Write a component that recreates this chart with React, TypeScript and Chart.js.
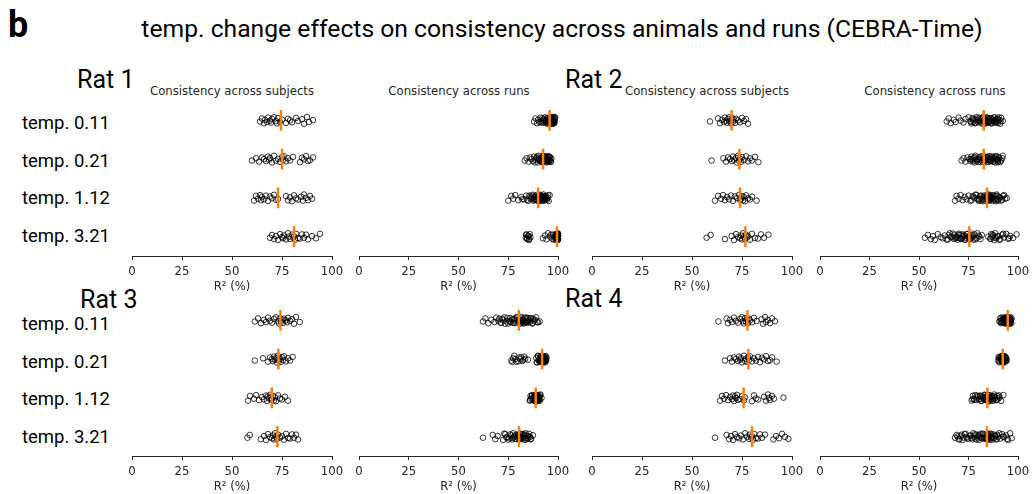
import React, { useEffect, useRef } from 'react';
import { Chart, registerables } from 'chart.js';

Chart.register(...registerables);

// ---------------- DATA ----------------
const CATEGORIES = ['temp. 0.11', 'temp. 0.21', 'temp. 1.12', 'temp. 3.21'];
const X_TICKS = [0, 25, 50, 75, 100];
const X_TITLE = 'R² (%)';
const MAIN_TITLE = 'temp. change effects on consistency across animals and runs (CEBRA-Time)';
const RAT_LABELS = ['Rat 1', 'Rat 2', 'Rat 3', 'Rat 4'];
const PANEL_TITLES = ['Consistency across subjects', 'Consistency across runs'];

const rat1Subjects = [
  [64, 65, 66, 66.5, 67.5, 68, 69, 69.5, 70, 71, 72, 72.5, 73, 74, 75, 77, 78, 79, 80, 82, 83, 85, 86, 87.5, 88.5, 90.5],
  [60, 62, 63.5, 65, 66, 67, 68, 68.5, 69, 70, 71, 72, 73, 74, 75, 75.5, 76, 77, 78, 79, 80.5, 84, 85, 86, 87, 88, 89, 90.5],
  [61, 62, 63, 64, 64.5, 65, 66, 67, 68, 69, 70, 71, 72, 73, 77, 78, 79, 80, 81, 82, 83, 84.5, 85.5, 86, 87, 88, 89, 90],
  [69, 70, 71, 72, 73, 74, 75, 75.5, 76, 77, 78, 78.5, 79, 80, 80.5, 81, 81.5, 82, 83, 84, 85, 86, 87, 88, 90, 92, 94],
];
const rat1SubjectsMedian = [74.5, 75, 73, 81];

const rat1Runs = [
  [88, 88.7, 89.4, 90, 90.6, 91.2, 91.8, 92.4, 93, 93.5, 94, 94.4, 94.8, 95.1, 95.4, 95.7, 96, 96.2, 96.4, 96.6, 96.8, 97, 97.2, 97.4, 97.6, 97.8, 98, 98.2, 98.4, 98.6,
    91.5, 92.8, 93.8, 94.6, 95, 95.3, 95.6, 95.9, 96.1, 96.3, 96.5, 96.7, 96.9, 97.1, 97.3, 97.5, 97.7, 97.9, 98.1, 98.3, 94.2, 93.2, 92, 95.8, 96.6],
  [83.3, 84.2, 85.2, 86, 86.7, 87.4, 88, 88.6, 89.2, 89.8, 90.3, 90.8, 91.3, 91.8, 92.2, 92.5, 92.8, 93.1, 93.4, 93.7, 94, 94.3, 94.6, 94.9, 95.2, 95.5, 95.8, 96.1, 96.4, 96.7,
    88.3, 89.5, 90.5, 91, 91.5, 92, 92.4, 92.7, 93, 93.3, 93.6, 93.9, 94.2, 94.5, 94.8, 95.1, 95.4, 95.7, 96, 96.3, 90.1, 91.6, 92.9, 94.4, 95.6],
  [75, 76.5, 77.5, 78.5, 80, 81.6, 83, 84, 85, 86, 86.7, 87.3, 88, 88.5, 89, 89.4, 89.8, 90.2, 90.6, 91, 91.4, 91.8, 92.2, 92.6, 93, 93.4, 93.8, 94.3, 94.8, 95.3, 95.8,
    82, 84.5, 85.5, 86.3, 87, 87.7, 88.2, 88.8, 89.2, 89.6, 90, 90.4, 90.8, 91.2, 91.6, 92, 92.4, 92.8, 93.2, 93.6, 94, 94.5, 95, 89.9, 90.6],
  [83.8, 84.2, 84.6, 85, 85.4, 85.8, 86.1, 92.4, 93.5, 94.2, 95, 96, 97, 97.5, 98, 98.5, 99, 99.2, 99.4, 99.5, 99.6, 99.7, 99.8, 99.9, 100, 100, 99.8, 99.6, 99.9, 99.7, 100, 99.5, 99.9,
    84, 84.4, 85.2, 85.6, 98.8, 99.1, 99.3, 99.6, 99.8, 100, 99.9, 99.7, 99.4, 98.2, 97.8, 96.5, 99.5, 99.95, 100, 99.85],
];
const rat1RunsMedian = [95.8, 92.5, 90, 99.5];

const rat2Subjects = [
  [59, 63, 64, 65, 66, 66.5, 67, 67.5, 68, 68.5, 69, 69.5, 70, 70.5, 71, 71.5, 72, 73, 74, 75, 76, 77, 78],
  [59.8, 65.7, 67, 68, 69, 70, 70.5, 71, 72, 72.5, 73, 73.5, 74, 74.5, 75, 76, 77, 78, 79, 80, 81.5, 83.2],
  [61.5, 63, 64.5, 65.5, 66.5, 67.5, 68.5, 69.5, 70.5, 71.5, 72.5, 73.5, 74, 74.5, 75, 75.5, 76, 76.5, 77, 78, 79, 80, 82.3],
  [57.3, 59.3, 66.5, 69.8, 71, 72, 73, 74, 74.5, 75, 75.5, 76, 76.5, 77, 77.5, 78, 79, 80, 81.5, 83, 84.5, 86, 88.2],
];
const rat2SubjectsMedian = [69.8, 73.7, 74, 76.7];

const rat2Runs = [
  [64, 65, 66, 67.5, 68.5, 70, 71, 72.5, 73.5, 75, 76, 76.5, 77, 77.5, 78, 78.5, 79, 79.5, 80, 80.5, 81, 81.5, 82, 82.3, 82.6, 83, 83.3, 83.6, 84, 84.4, 84.8, 85.2, 85.6, 86, 86.5, 87, 87.5, 88, 88.5, 89, 89.5, 90, 90.5, 91, 91.5, 92.3,
    76.2, 77.2, 78.2, 79.2, 80.2, 81.2, 82.1, 82.8, 83.1, 83.8, 84.2, 84.6, 85, 85.4, 85.8, 86.2, 86.8, 87.2, 87.8, 88.2, 88.8, 89.2, 89.8, 90.2, 91.2],
  [71.5, 72.5, 73.5, 74.5, 75.5, 76, 76.5, 77, 77.5, 78, 78.5, 79, 79.5, 80, 80.5, 81, 81.5, 82, 82.5, 83, 83.5, 84, 84.5, 85, 85.5, 86, 86.5, 87, 87.5, 88, 88.5, 89, 89.5, 90, 90.5, 91, 92.3,
    76.2, 77.2, 78.2, 79.2, 80.2, 81.2, 82.2, 82.8, 83.2, 83.8, 84.2, 84.8, 85.2, 85.8, 86.2, 86.8, 87.2, 87.8, 88.2, 88.8, 89.2, 89.8, 90.2, 91.5, 92],
  [68.2, 69, 70, 71, 72, 73, 74, 75, 76, 77, 78, 79, 80, 80.5, 81, 81.5, 82, 82.5, 83, 83.5, 84, 84.5, 85, 85.2, 85.5, 86, 86.2, 86.5, 87, 87.2, 87.5, 88, 88.2, 88.5, 89, 89.5, 90, 91, 92, 93, 94.3,
    76.5, 77.5, 78.5, 79.5, 80.2, 81.2, 82.2, 82.8, 83.2, 83.8, 84.2, 84.8, 85.8, 86.8, 87.8, 88.8, 89.2, 89.8, 90.5, 91.5, 92.5, 93.5, 84.6, 85.4, 86.4],
  [53, 54.5, 56, 57, 58, 59.5, 61, 62, 63, 64.6, 65.5, 66.5, 67.5, 68, 68.5, 69, 69.5, 70, 70.5, 71, 71.5, 72, 72.5, 73, 73.5, 74, 74.5, 75, 75.5, 76, 76.5, 77, 77.5, 78, 79, 80, 81, 81.7, 85, 86, 86.5, 87, 87.5, 88, 88.5, 89, 90, 91, 92, 93, 94, 95, 96, 97.5, 99.3,
    64, 65, 66, 67, 68.2, 69.2, 70.2, 71.2, 72.2, 73.2, 74.2, 75.2, 76.2, 77.2, 78.5, 79.5, 80.5, 86.2, 87.2, 88.2, 89.5, 90.5, 92.5, 95.5, 75.8],
];
const rat2RunsMedian = [82.7, 82.7, 84.3, 75.4];

const rat3Subjects = [
  [61.4, 63, 64.5, 66, 67, 68, 69, 70, 71, 72, 73, 73.5, 74, 74.5, 75, 75.5, 76, 77, 77.5, 78, 79, 80, 81, 82, 83.9],
  [61.4, 65.5, 68, 69, 70, 70.5, 71, 71.5, 72, 72.5, 73, 73.5, 74, 74.5, 75, 75.5, 76, 77, 78, 79, 80.3],
  [58, 59, 61, 62, 63.5, 65, 66, 67, 67.5, 68, 68.5, 69, 69.5, 70, 70.5, 71, 71.5, 72, 73, 74, 75, 76.5, 78],
  [57.7, 58.9, 64.4, 66, 67, 68, 69, 70, 70.5, 71, 71.5, 72, 72.5, 73, 74, 75, 76, 77, 78, 79, 80, 81, 82, 83],
];
const rat3SubjectsMedian = [74.2, 73.2, 69.9, 72.7];

const rat3Runs = [
  [62.3, 63.5, 65, 66.5, 68, 69, 70, 71, 72, 73, 74, 75, 76, 76.5, 77, 77.5, 78, 78.5, 79, 79.5, 80, 80.5, 81, 81.5, 82, 82.5, 83, 83.5, 84, 84.5, 85, 85.5, 86, 86.5, 87, 87.5, 88, 89, 90, 90.8,
    70.5, 71.5, 72.5, 73.5, 74.5, 75.5, 76.2, 77.2, 78.2, 79.2, 80.2, 80.8, 81.2, 81.8, 82.2, 82.8, 83.2, 83.8, 84.2, 84.8, 85.2, 86.2, 87.2, 88.5, 89.5],
  [76.6, 77.5, 79, 80.5, 81.2, 82, 83, 84.9, 89.1, 89.5, 89.9, 90.3, 90.6, 90.9, 91, 91.2, 91.5, 91.7, 91.8, 92, 92.1, 92.2, 92.4, 92.5, 92.6, 92.8, 93, 93.1, 93.2, 93.4, 93.5, 93.6, 93.8, 94, 94.2,
    77, 78, 78.5, 80, 81.5, 82.5, 83.5, 89.3, 90, 90.5, 91, 91.4, 91.9, 92.3, 92.7, 93.3, 93.7, 94, 92.05, 92.15],
  [85.8, 86.2, 86.6, 87, 87.3, 87.6, 87.9, 88.2, 88.4, 88.5, 88.7, 88.8, 88.9, 89, 89.1, 89.3, 89.5, 89.7, 89.9, 90.1, 90.3, 90.6, 90.9, 91.2, 91.7,
    86, 86.8, 87.5, 88, 88.3, 88.6, 89.2, 89.4, 89.6, 89.8, 90, 90.2, 90.5, 90.8, 91],
  [62.3, 67.2, 68.5, 69.7, 72.4, 73.5, 74.5, 75.5, 76.5, 77, 77.5, 78, 78.5, 79, 79.5, 80, 80.5, 81, 81.5, 82, 82.5, 83, 83.5, 84, 84.5, 85, 85.5, 86, 86.5, 87.4,
    73, 74, 75, 76, 77.2, 78.2, 79.2, 80.2, 80.8, 81.2, 81.8, 82.2, 82.8, 83.2, 83.8, 84.2, 85.2, 86.2, 79.8, 80.4],
];
const rat3RunsMedian = [80.3, 92, 88.8, 80.4];

const rat4Subjects = [
  [63.2, 67.3, 68, 69, 70, 71, 72, 73, 74, 75, 75.5, 76, 76.5, 77, 77.5, 78, 78.5, 79, 80, 81, 82.3, 84.8, 85.5, 86.5, 87, 88, 89, 90, 91.5],
  [66.5, 69, 70, 71, 72, 73, 73.5, 74, 74.5, 75, 76, 76.5, 77, 77.5, 78, 78.5, 79, 80, 81, 82, 83, 84, 85, 86, 87, 88, 89, 90, 92.3],
  [64, 65, 66, 67, 68, 69, 70, 70.5, 71, 71.5, 72, 72.5, 73, 74, 75, 76, 76.5, 80, 81, 82, 83, 86, 87, 88, 88.5, 89, 90, 91, 95.7],
  [61.5, 67.3, 68.5, 69.5, 70.5, 71.5, 72.5, 73.5, 74.5, 75.5, 76.5, 77.5, 78.5, 79, 79.5, 80, 80.5, 81, 82, 83, 84, 85, 86.5, 90.7, 92, 93.5, 95, 96.5, 98.2],
];
const rat4SubjectsMedian = [77.7, 78.2, 75.8, 80];

const rat4Runs = [
  [90.6, 91, 91.4, 91.8, 92.2, 92.6, 93, 93.3, 93.6, 93.8, 93.9, 94.2, 94.4, 94.6, 94.7, 94.8, 94.9, 95, 95.1, 95.2, 95.4, 95.6, 95.8, 96, 96.2, 96.4, 96.6, 96.8,
    91.2, 91.6, 92, 92.4, 92.8, 93.1, 93.4, 93.7, 94, 94.3, 94.5, 94.75, 94.85, 95.05, 95.3, 95.5, 95.7, 95.9, 96.1, 96.3],
  [90, 90.4, 90.8, 91.1, 91.4, 91.7, 91.9, 92, 92.2, 92.3, 92.4, 92.5, 92.6, 92.8, 93, 93.2, 93.5, 93.8, 94.1, 94.3,
    90.2, 90.6, 91, 91.3, 91.6, 91.8, 92.1, 92.35, 92.45, 92.7, 92.9, 93.1, 93.4, 93.7, 94],
  [76.6, 77.2, 77.8, 78.4, 79, 79.6, 80.2, 80.8, 81.4, 82, 82.5, 83, 83.4, 83.8, 84.2, 84.6, 85, 85.4, 85.8, 86.2, 86.6, 87, 87.5, 88, 88.5, 89, 89.5, 90, 90.7, 91.5, 92.6,
    77, 78, 79.3, 80.5, 81.1, 81.7, 82.3, 82.8, 83.2, 83.6, 84, 84.4, 84.8, 85.2, 85.6, 86, 86.4, 86.8, 87.3, 87.8, 88.3, 89.3, 90.4],
  [68.2, 69, 70, 71, 72, 73, 74, 75, 76, 77, 77.5, 78, 78.5, 79, 79.5, 80, 80.5, 81, 81.5, 82, 82.5, 83, 83.5, 84, 84.2, 84.5, 84.8, 85, 85.2, 85.5, 86, 86.5, 87, 87.5, 88, 88.5, 89, 89.5, 90, 91, 92, 93, 94, 95, 96, 96.8,
    69.5, 70.5, 71.5, 72.5, 73.5, 74.5, 75.5, 76.5, 78.2, 79.2, 80.2, 81.2, 82.2, 83.2, 84.1, 84.4, 84.6, 85.3, 85.8, 86.2, 86.8, 87.2, 88.2, 89.2, 90.5, 92.5, 94.5],
];
const rat4RunsMedian = [94.8, 92.3, 84.5, 84.3];

// hand-written vertical jitter offsets (in row units)
const JITTER = [
  0.04, -0.07, 0.10, -0.02, 0.06, -0.10, 0.01, 0.08, -0.05, -0.11,
  0.03, 0.11, -0.08, 0.05, -0.03, 0.09, -0.06, 0.00, 0.07, -0.09,
  0.02, -0.04, 0.12, -0.12, 0.06, -0.01, 0.10, -0.07, 0.03, -0.10,
  0.08, -0.03, 0.05, -0.08, 0.11, -0.05, 0.01, -0.11, 0.07, 0.04,
  -0.06, 0.09, -0.02, 0.12, -0.09, 0.02, 0.06, -0.04, 0.10, -0.12,
  0.00, 0.08, -0.07, 0.03, -0.01, 0.11, -0.10, 0.05, 0.07, -0.08,
];

// ---------------- LAYOUT ----------------
const PAD_L = 24;
const PAD_R = 24;
const PAD_T = 12;
const AREA_H = 155;
const AXIS_H = 45;
const JITTER_SCALE = 0.72;
const TICK_FONT = { family: 'DejaVu Sans', size: 11.7 };
const AXIS_COLOR = '#262626';

type PanelProps = { x0: number; x1: number; areaTop: number; rows: number[][]; medians: number[] };

function StripPanel({ x0, x1, areaTop, rows, medians }: PanelProps) {
  const ref = useRef<HTMLCanvasElement>(null);
  const w = x1 - x0 + PAD_L + PAD_R;
  const h = PAD_T + AREA_H + AXIS_H;
  useEffect(() => {
    if (!ref.current) return;
    const datasets: any[] = [];
    rows.forEach((vals, r) => {
      datasets.push({
        type: 'line',
        data: [
          { x: medians[r], y: r - 0.27 },
          { x: medians[r], y: r + 0.27 },
        ],
        borderColor: '#ff7f0e',
        borderWidth: 2.5,
        pointRadius: 0,
        order: 0,
        clip: false,
      });
      datasets.push({
        type: 'scatter',
        data: vals.map((v, i) => ({ x: v, y: r + JITTER_SCALE * JITTER[(i + r * 13) % JITTER.length] })),
        pointRadius: 2.8,
        borderWidth: 1,
        borderColor: 'rgba(0,0,0,0.78)',
        backgroundColor: 'rgba(0,0,0,0)',
        order: 1,
        clip: false,
      });
    });
    const chart = new Chart(ref.current, {
      type: 'scatter',
      data: { datasets },
      options: {
        responsive: false,
        animation: false,
        events: [],
        layout: { padding: { left: PAD_L, right: PAD_R, top: PAD_T, bottom: 0 } },
        plugins: { legend: { display: false }, tooltip: { enabled: false }, title: { display: false } },
        scales: {
          x: {
            type: 'linear',
            min: 0,
            max: 100,
            afterBuildTicks: (s: any) => {
              s.ticks = X_TICKS.map((v) => ({ value: v }));
            },
            afterFit: (s: any) => {
              s.height = AXIS_H;
            },
            ticks: { font: TICK_FONT, color: AXIS_COLOR, padding: 4.5, maxRotation: 0, autoSkip: false },
            grid: { display: true, drawOnChartArea: false, drawTicks: true, tickLength: 4, color: AXIS_COLOR, lineWidth: 1 },
            border: { display: true, color: AXIS_COLOR, width: 1 },
            title: { display: true, text: X_TITLE, font: TICK_FONT, color: AXIS_COLOR, padding: { top: 0, bottom: 7 } },
          },
          y: { type: 'linear', min: -0.5, max: 3.5, reverse: true, display: false },
        },
      },
    } as any);
    return () => chart.destroy();
  }, []);
  return (
    <canvas
      ref={ref}
      width={w}
      height={h}
      style={{ position: 'absolute', left: x0 - PAD_L, top: areaTop - PAD_T, width: w, height: h, display: 'block' }}
    />
  );
}

function Txt(props: { text: string; x: number; base: number; size: number; family?: string; weight?: number; align?: string; color?: string }) {
  const { text, x, base, size, family = 'Roboto', weight = 400, align = 'left', color = '#000' } = props;
  const style: any = {
    position: 'absolute',
    top: base - 0.845 * size,
    left: x,
    fontFamily: family,
    fontSize: size,
    fontWeight: weight,
    lineHeight: 1,
    color,
    whiteSpace: 'nowrap',
  };
  if (align === 'center') style.transform = 'translateX(-50%)';
  return <div style={style}>{text}</div>;
}

const TOP_AREA = 101;
const BOTTOM_AREA = 301;
const TOP_LABEL_CENTERS = [123.5, 161, 198.5, 236];
const BOTTOM_LABEL_CENTERS = [324.5, 362, 399.5, 437];

export default function App() {
  return (
    <div style={{ position: 'absolute', left: 0, top: 0, width: 1036, height: 494, background: '#fff', overflow: 'hidden' }}>
      <Txt text="b" x={8} base={37} size={36} weight={700} />
      <Txt text={MAIN_TITLE} x={562} base={38} size={24.7} align="center" />

      <Txt text={RAT_LABELS[0]} x={77} base={88} size={25} />
      <Txt text={RAT_LABELS[1]} x={565} base={88} size={25} />
      <Txt text={RAT_LABELS[2]} x={80} base={308} size={25} />
      <Txt text={RAT_LABELS[3]} x={565} base={307} size={25} />

      <Txt text={PANEL_TITLES[0]} x={232} base={95.5} size={11.7} family="DejaVu Sans" color={AXIS_COLOR} align="center" />
      <Txt text={PANEL_TITLES[1]} x={459} base={95.5} size={11.7} family="DejaVu Sans" color={AXIS_COLOR} align="center" />
      <Txt text={PANEL_TITLES[0]} x={707} base={95.5} size={11.7} family="DejaVu Sans" color={AXIS_COLOR} align="center" />
      <Txt text={PANEL_TITLES[1]} x={935} base={95.5} size={11.7} family="DejaVu Sans" color={AXIS_COLOR} align="center" />

      {TOP_LABEL_CENTERS.map((c, i) => (
        <Txt key={'t' + i} text={CATEGORIES[i]} x={22} base={c + 6.6} size={18.5} />
      ))}
      {BOTTOM_LABEL_CENTERS.map((c, i) => (
        <Txt key={'b' + i} text={CATEGORIES[i]} x={22} base={c + 6.6} size={18.5} />
      ))}

      <StripPanel x0={132} x1={332} areaTop={TOP_AREA} rows={rat1Subjects} medians={rat1SubjectsMedian} />
      <StripPanel x0={359} x1={558} areaTop={TOP_AREA} rows={rat1Runs} medians={rat1RunsMedian} />
      <StripPanel x0={592} x1={792} areaTop={TOP_AREA} rows={rat2Subjects} medians={rat2SubjectsMedian} />
      <StripPanel x0={820} x1={1018} areaTop={TOP_AREA} rows={rat2Runs} medians={rat2RunsMedian} />

      <StripPanel x0={132} x1={332} areaTop={BOTTOM_AREA} rows={rat3Subjects} medians={rat3SubjectsMedian} />
      <StripPanel x0={359} x1={558} areaTop={BOTTOM_AREA} rows={rat3Runs} medians={rat3RunsMedian} />
      <StripPanel x0={592} x1={792} areaTop={BOTTOM_AREA} rows={rat4Subjects} medians={rat4SubjectsMedian} />
      <StripPanel x0={820} x1={1018} areaTop={BOTTOM_AREA} rows={rat4Runs} medians={rat4RunsMedian} />
    </div>
  );
}
